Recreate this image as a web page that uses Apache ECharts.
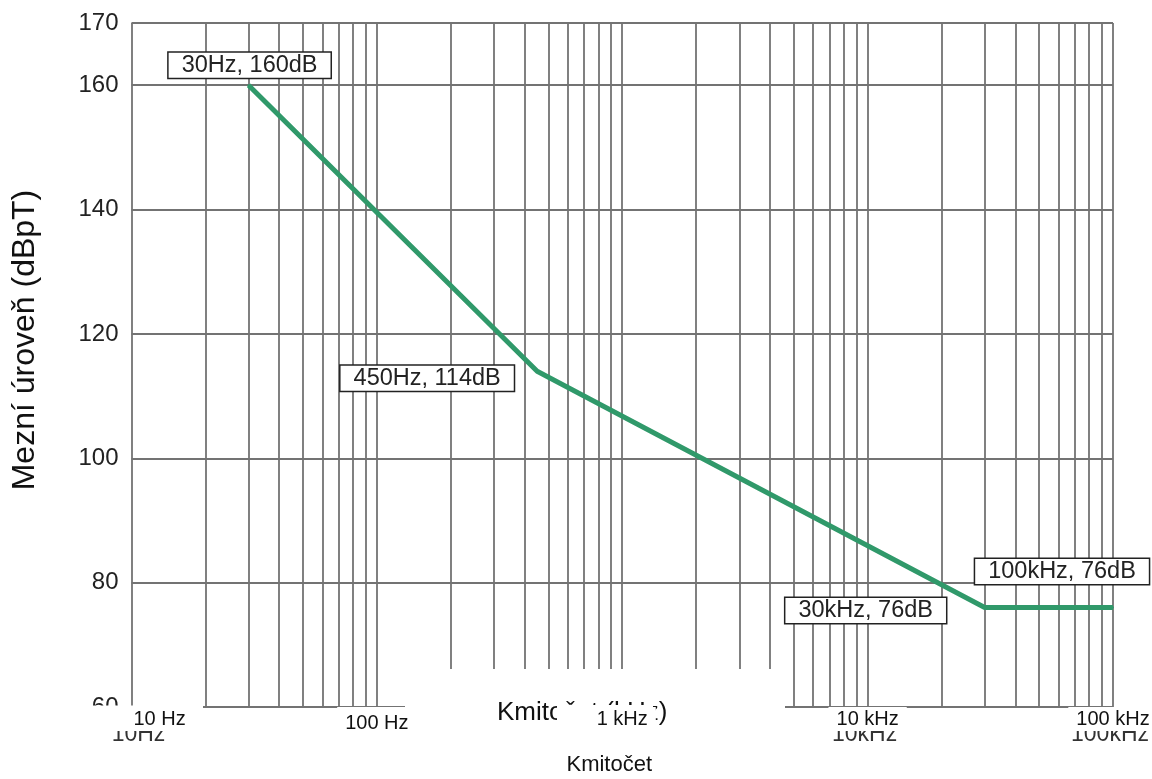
<!DOCTYPE html>
<html>
<head>
<meta charset="utf-8">
<title>Mezní úroveň magnetického pole</title>
<script src="https://cdn.jsdelivr.net/npm/echarts@6/dist/echarts.min.js"></script>
<style>
  html, body { margin: 0; padding: 0; background: #fff; overflow: hidden; }
  #chart { width: 1152px; height: 779px; }
</style>
</head>
<body>
<div id="chart"></div>
<script>
// Limit curve: frequency (Hz) and level (dBpT)
const freqHz = [30, 450, 30000, 100000];
const levelDb = [160, 114, 76, 76];

// Frequency axis labels
const tickValues = [10, 100, 1000, 10000, 100000];
const tickLabels = ['10 Hz', '100 Hz', '1 kHz', '10 kHz', '100 kHz'];

// Older print of the frequency labels, mostly covered by the new ones
const oldTickLabels = ['10Hz', '100Hz', '10kHz', '100kHz'];
const oldTickValues = [10, 100, 10000, 100000];

// Log-paper grid: 1..9 within each decade, plus the closing 100 kHz line
const gridDecades = [10, 100, 1000, 10000];
const gridSteps = [1, 2, 3, 4, 5, 6, 7, 8, 9];
const gridFreqs = [];
gridDecades.forEach(d => gridSteps.forEach(s => gridFreqs.push(d * s)));
gridFreqs.push(100000);

// Level axis
const levelMin = 60, levelMax = 170, levelStep = 20;

const FONT = "'Liberation Sans', Arial, Helvetica, sans-serif";
const GRID_COLOR = '#737373';
const CURVE_COLOR = '#30996a';

function fmtFreq(f) {
  return f >= 1000 ? (f / 1000) + 'kHz' : f + 'Hz';
}

// Callout placement relative to each point (center offset in px)
const calloutOffsets = [[1, -20], [-110, 7], [-119, 3], [-51, -36]];

const curveData = freqHz.map((f, i) => ({
  value: [f, levelDb[i]],
  label: {
    show: true,
    position: 'inside',
    offset: calloutOffsets[i],
    formatter: fmtFreq(f) + ', ' + levelDb[i] + 'dB'
  }
}));

const chart = echarts.init(document.getElementById('chart'), null, { renderer: 'canvas' });

const tickFont = { fontFamily: FONT, fontSize: 20, color: '#111' };

const option = {
  animation: false,
  backgroundColor: '#ffffff',
  grid: {
    left: 131.5, right: 39, top: 23, bottom: 72,
    containLabel: false,
    outerBoundsMode: 'none'
  },
  xAxis: {
    type: 'log',
    logBase: 10,
    min: 10,
    max: 100000,
    z: 100,
    axisLine: { show: false },
    axisTick: { show: false },
    splitLine: { show: false },
    minorSplitLine: { show: false },
    name: 'Kmitočet',
    nameLocation: 'middle',
    nameGap: 47,
    nameTextStyle: { fontFamily: FONT, fontSize: 22, color: '#111', padding: [0, 26, 0, 0] },
    axisLabel: {
      margin: 0,
      fontFamily: FONT,
      fontSize: 20,
      color: '#111',
      backgroundColor: '#fff',
      padding: [2, 2, 2, 2],
      alignMinLabel: 'left',
      rich: {
        n: Object.assign({ padding: [0, 6, 0, 6] }, tickFont),
        lo: Object.assign({ padding: [4, 6, 0, 6] }, tickFont)
      },
      formatter: v => {
        const i = tickValues.findIndex(t => Math.abs(t - v) / t < 1e-6);
        if (i < 0) return '';
        if (i === 0) return tickLabels[i];
        return (i === 1 ? '{lo|' : '{n|') + tickLabels[i] + '}';
      }
    }
  },
  yAxis: {
    type: 'value',
    min: levelMin,
    max: levelMax,
    interval: levelStep,
    z: 0,
    axisLine: { show: false },
    axisTick: { show: false },
    splitLine: { show: true, lineStyle: { color: GRID_COLOR, width: 1.8 } },
    axisLabel: { fontFamily: FONT, fontSize: 24, color: '#222', margin: 13 },
    name: 'Mezní úroveň (dBpT)',
    nameLocation: 'middle',
    nameGap: 90,
    nameTextStyle: { fontFamily: FONT, fontSize: 32, color: '#111', padding: [0, 0, 0, 50] }
  },
  series: [
    {
      // carries the vertical log-paper lines
      type: 'line',
      z: 1,
      silent: true,
      data: freqHz.map((f, i) => [f, levelDb[i]]),
      showSymbol: false,
      lineStyle: { opacity: 0 },
      markLine: {
        z: 1,
        silent: true,
        symbol: ['none', 'none'],
        label: { show: false },
        lineStyle: { color: GRID_COLOR, width: 1.8, type: 'solid' },
        emphasis: { disabled: true },
        data: gridFreqs.map(f => ({ xAxis: f }))
      }
    },
    {
      type: 'line',
      z: 3,
      data: curveData,
      symbol: 'circle',
      symbolSize: 2,
      showSymbol: true,
      showAllSymbol: true,
      itemStyle: { color: CURVE_COLOR },
      lineStyle: { color: CURVE_COLOR, width: 5 },
      label: {
        align: 'center',
        verticalAlign: 'middle',
        fontFamily: FONT,
        fontSize: 23.5,
        color: '#222',
        backgroundColor: '#fff',
        borderColor: '#222',
        borderWidth: 1.5,
        padding: [1, 13, 0, 13]
      },
      emphasis: { disabled: true }
    }
  ]
};

chart.setOption(option);

// Overlays below the plot: older labels, white patches and the long axis caption
function px(v) { return chart.convertToPixel({ xAxisIndex: 0 }, v); }
const elements = [];
oldTickValues.forEach((v, i) => {
  const x = px(v) + (i === 0 ? 7 : -3);
  elements.push({
    type: 'text', z: 40, silent: true,
    style: { text: oldTickLabels[i], x: x, y: 746, align: 'center', verticalAlign: 'bottom',
             font: '23px ' + FONT, fill: '#333' }
  });
});
const patches = [
  [88, 709, 1064, 22],     // band under the axis
  [88, 705.5, 115, 10],    // left corner under the 10 Hz label
  [335, 709, 78, 32],      // deeper patch under 100 Hz
  [405, 669, 380, 42],     // cut-off grid ends in the middle
  [557, 705, 96, 30]       // patch over the middle of the caption
];
patches.forEach((p, i) => elements.push({
  type: 'rect', z: i === 4 ? 70 : 50, silent: true,
  shape: { x: p[0], y: p[1], width: p[2], height: p[3] }, style: { fill: '#fff' }
}));
elements.push({ type: 'text', z: 60, silent: true,
  style: { text: 'Kmitočet (kHz)', x: 497, y: 713, align: 'left', verticalAlign: 'middle',
           font: '26px ' + FONT, fill: '#111' } });
chart.setOption({ graphic: { elements: elements } });
</script>
</body>
</html>
